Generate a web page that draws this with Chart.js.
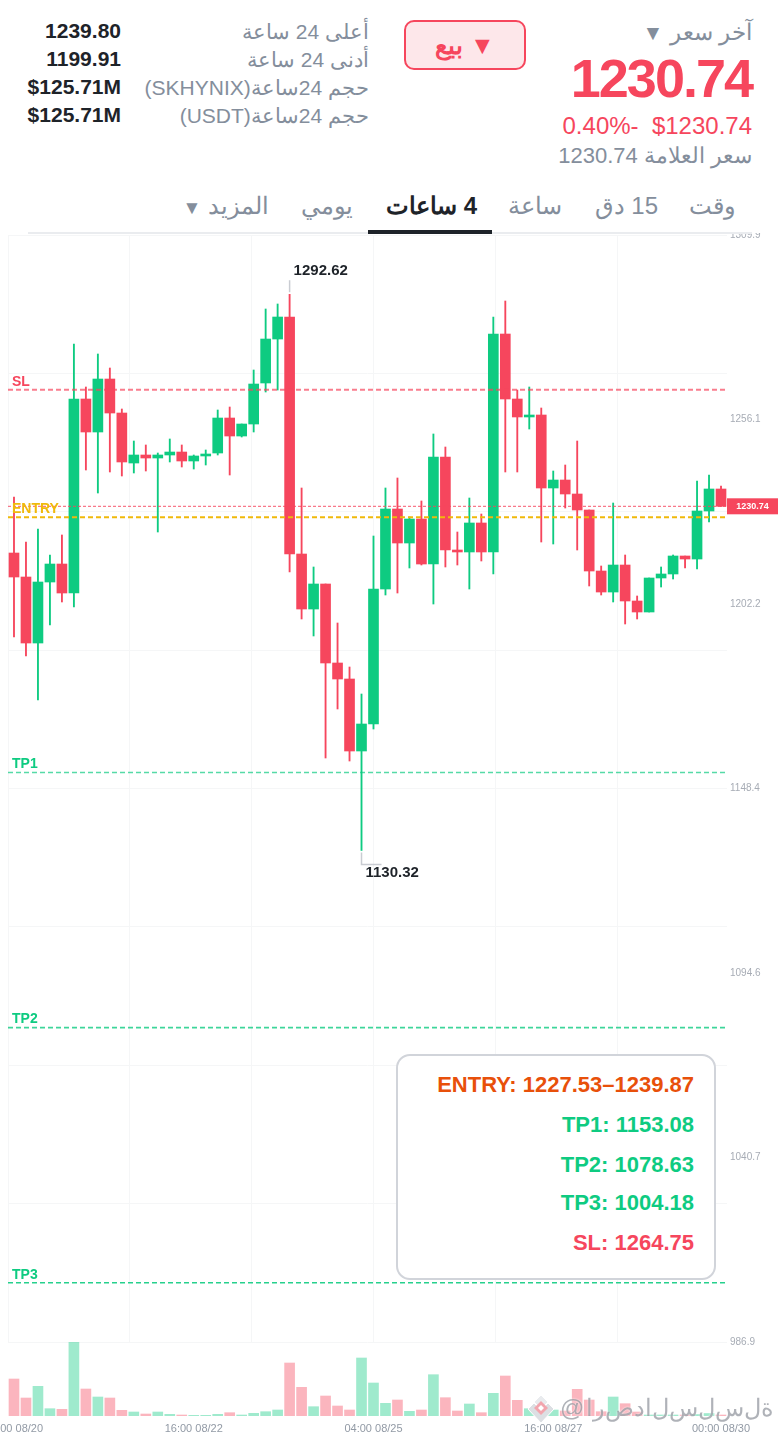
<!DOCTYPE html>
<html lang="ar">
<head>
<meta charset="utf-8">
<title>SKHYNIX</title>
<script src="https://cdn.jsdelivr.net/npm/chart.js@4"></script>
<style>
  html, body { margin: 0; padding: 0; background: #fff; }
  body { width: 780px; height: 1434px; position: relative; overflow: hidden; font-family: "Liberation Sans", "Noto Sans", sans-serif; }
  .abs { position: absolute; white-space: nowrap; }
  .r { direction: rtl; text-align: right; }
  .grey { color: #848e9c; }
  .dark { color: #1e2329; font-weight: 700; }
  canvas { position: absolute; left: 0; }
  #priceChart { top: 225px; }
  #volChart { top: 1342px; left: -30px; }
  .tab { position: absolute; top: 192px; font-size: 24px; color: #848e9c; white-space: nowrap; direction: rtl; }
  #box { position: absolute; left: 396px; top: 1054px; width: 316px; height: 222px; border: 2px solid #d1d4da; border-radius: 14px; background: #fff; z-index: 3; }
  #box div { position: absolute; right: 20px; font-size: 22px; font-weight: 700; white-space: nowrap; }
  #wm { position: absolute; left: 560px; top: 1394px; color: rgba(110,115,125,.55); font-size: 24px; letter-spacing: 2px; direction: ltr; white-space: nowrap; text-shadow: 0 0 2px #fff; z-index: 4; }
  #wm span { display: inline-block; }
  #logo { position: absolute; left: 527px; top: 1394px; z-index: 4; }
  #tabCover { position: absolute; left: 0; top: 225px; width: 780px; height: 8px; background: #fff; z-index: 1; }
  .tabLine { z-index: 2; }
</style>
</head>
<body>

<div class="abs r grey" style="right:28px;top:19px;font-size:23px">آخر سعر <span style="font-size:21px">▼</span></div>
<div class="abs" style="right:28px;top:47px;font-size:54px;font-weight:700;color:#f6465d;letter-spacing:-2px">1230.74</div>
<div class="abs" style="right:28px;top:112px;font-size:24px;color:#f6465d">0.40%-&nbsp; $1230.74</div>
<div class="abs r grey" style="right:28px;top:143px;font-size:22px">سعر العلامة 1230.74</div>

<div class="abs" style="left:404px;top:20px;width:118px;height:46px;border:2px solid #f6465d;border-radius:10px;background:#fde7ea;color:#f6465d;font-size:25px;font-weight:700;text-align:center;line-height:46px;direction:rtl">▼ بيع</div>

<div class="abs r grey" style="right:411px;top:20px;font-size:21px">أعلى 24 ساعة</div>
<div class="abs r grey" style="right:411px;top:48px;font-size:21px">أدنى 24 ساعة</div>
<div class="abs r grey" style="right:411px;top:76px;font-size:21px">حجم 24ساعة(SKHYNIX)</div>
<div class="abs r grey" style="right:411px;top:104px;font-size:21px">حجم 24ساعة(USDT)</div>
<div class="abs dark" style="right:659px;top:19px;font-size:21px">1239.80</div>
<div class="abs dark" style="right:659px;top:47px;font-size:21px">1199.91</div>
<div class="abs dark" style="right:659px;top:75px;font-size:21px">$125.71M</div>
<div class="abs dark" style="right:659px;top:103px;font-size:21px">$125.71M</div>

<div class="tab" style="right:44px">وقت</div>
<div class="tab" style="right:122px">15 دق</div>
<div class="tab" style="right:218px">ساعة</div>
<div class="tab" style="right:303px;color:#1e2329;font-weight:700">4 ساعات</div>
<div class="tab" style="right:427px">يومي</div>
<div class="tab" style="right:511px">المزيد <span style="font-size:19px">▼</span></div>

<canvas id="priceChart" width="780" height="1129"></canvas>
<canvas id="volChart" width="840" height="92"></canvas>

<div id="tabCover"></div>
<div class="abs tabLine" style="left:28px;top:232px;width:724px;height:2px;background:#eaecef"></div>
<div class="abs tabLine" style="left:368px;top:230px;width:124px;height:4px;background:#1e2329"></div>

<div id="box">
  <div style="top:16px;color:#e8500a">ENTRY: 1227.53–1239.87</div>
  <div style="top:56px;color:#0ecb81">TP1: 1153.08</div>
  <div style="top:96px;color:#0ecb81">TP2: 1078.63</div>
  <div style="top:134px;color:#0ecb81">TP3: 1004.18</div>
  <div style="top:174px;color:#f6465d">SL: 1264.75</div>
</div>

<svg id="logo" width="28" height="30" viewBox="0 0 28 30">
  <path d="M14 1 L21 8 L14 15 L7 8 Z" fill="#e9ebee" stroke="#fff" stroke-width="1"/>
  <path d="M7 9 L14 16 L21 9 L27 15 L14 29 L1 15 Z" fill="#dcdfe3" stroke="#fff" stroke-width="1"/>
  <path d="M14 7 L21 14 L14 21 L7 14 Z" fill="#f2a5ae"/>
  <path d="M14 11 L17 14 L14 17 L11 14 Z" fill="#fff"/>
</svg>
<div id="wm"></div>

<script>
const categories = ['04:00 08/20','08:00 08/20','12:00 08/20','16:00 08/20','20:00 08/20','00:00 08/21','04:00 08/21','08:00 08/21','12:00 08/21','16:00 08/21','20:00 08/21','00:00 08/22','04:00 08/22','08:00 08/22','12:00 08/22','16:00 08/22','20:00 08/22','00:00 08/23','04:00 08/23','08:00 08/23','12:00 08/23','16:00 08/23','20:00 08/23','00:00 08/24','04:00 08/24','08:00 08/24','12:00 08/24','16:00 08/24','20:00 08/24','00:00 08/25','04:00 08/25','08:00 08/25','12:00 08/25','16:00 08/25','20:00 08/25','00:00 08/26','04:00 08/26','08:00 08/26','12:00 08/26','16:00 08/26','20:00 08/26','00:00 08/27','04:00 08/27','08:00 08/27','12:00 08/27','16:00 08/27','20:00 08/27','00:00 08/28','04:00 08/28','08:00 08/28','12:00 08/28','16:00 08/28','20:00 08/28','00:00 08/29','04:00 08/29','08:00 08/29','12:00 08/29','16:00 08/29','20:00 08/29','00:00 08/30'];

const opens = [1217.11,1210.11,1190.85,1208.65,1213.90,1205.44,1262.05,1252.42,1267.88,1257.96,1243.37,1245.71,1244.83,1245.71,1246.58,1243.96,1245.42,1246.29,1256.50,1251.25,1254.75,1266.72,1279.55,1285.97,1216.82,1200.77,1208.07,1185.02,1180.35,1159.34,1167.22,1206.61,1229.95,1220.03,1227.03,1213.90,1245.12,1217.99,1217.41,1225.87,1217.41,1281.01,1262.05,1256.80,1257.38,1236.08,1238.41,1234.33,1229.66,1211.86,1205.73,1213.61,1203.11,1199.90,1209.82,1210.99,1216.24,1215.36,1229.37,1235.79];
const highs = [1233.45,1220.32,1224.12,1216.53,1222.37,1278.10,1265.55,1275.18,1271.09,1259.13,1249.79,1248.63,1246.29,1250.38,1248.63,1245.71,1247.17,1258.84,1259.71,1254.75,1270.51,1288.31,1289.77,1292.62,1236.08,1213.03,1208.07,1196.69,1183.85,1175.97,1222.07,1236.08,1239.00,1227.62,1232.29,1251.84,1248.04,1223.24,1233.16,1228.49,1285.97,1290.64,1264.67,1265.55,1259.42,1241.04,1242.79,1249.79,1229.66,1213.32,1231.70,1216.53,1204.57,1209.82,1213.03,1216.53,1216.24,1238.12,1239.87,1236.66];
const lows = [1192.60,1187.06,1174.22,1196.11,1202.82,1201.36,1241.33,1234.62,1240.75,1239.58,1240.46,1241.04,1223.24,1243.67,1242.21,1241.62,1242.79,1245.71,1239.87,1250.96,1252.42,1264.09,1264.67,1211.57,1197.86,1192.90,1157.30,1171.60,1156.42,1130.32,1165.76,1204.86,1205.44,1212.74,1213.61,1202.23,1213.03,1213.61,1206.61,1214.78,1210.99,1240.75,1240.75,1253.29,1220.32,1219.74,1230.24,1217.99,1207.49,1204.86,1202.82,1196.40,1197.86,1199.90,1207.19,1209.53,1212.74,1212.45,1226.16,1230.74];
const closes = [1210.11,1190.85,1208.65,1213.90,1205.44,1262.05,1252.42,1267.88,1257.96,1243.67,1245.71,1244.83,1245.71,1246.58,1243.96,1245.42,1246.00,1256.50,1251.25,1254.75,1266.42,1279.55,1285.97,1216.82,1200.77,1208.07,1185.02,1180.35,1159.34,1167.22,1206.61,1229.95,1220.03,1227.03,1213.90,1245.12,1217.99,1217.41,1225.87,1217.41,1281.01,1262.05,1256.80,1257.38,1236.08,1238.41,1234.33,1229.66,1211.86,1205.73,1213.61,1203.11,1199.90,1209.82,1210.99,1216.24,1215.36,1229.37,1235.79,1230.74];
const volumes = [37,18,29.7,7.3,6.7,74,27,19,18,5.7,4,2,4,1.7,1,0.7,0.7,1.7,3.3,1,2.7,4.3,6,53,28.7,9.3,20,10,6,58,33,12.7,16,4.7,6,41.3,18.3,5,12,3.3,22.7,40,15.7,7.3,5,6,5,26.7,16,4.3,19,12.3,4,1,1,1,1,1.5,2.5,1];

const priceLabels = [1309.9,1256.1,1202.2,1148.4,1094.6,1040.7,986.9];
const gridPrices = [1309.9,1269.5,1229.1,1188.8,1148.4,1108.0,1067.6,1027.3,986.9];
const gridColumns = [0,1,2,3,4,5];
const shownTimes = ['04:00 08/20','16:00 08/22','04:00 08/25','16:00 08/27','00:00 08/30'];

const levelNames = ['SL','ENTRY','TP1','TP2','TP3'];
const levelValues = [1264.75,1227.53,1153.08,1078.63,1004.18];
const levelColors = ['#f6465d','#f0b90b','#0ecb81','#0ecb81','#0ecb81'];
const lastPrice = 1230.74;
const highMark = 1292.62;
const lowMark = 1130.32;

const watermark = ['@','ا','ر','ص','د','ا','ل','س','ل','س','ل','ة'];

const UP = '#0ecb81';
const DOWN = '#f6465d';
const candleColors = opens.map((o, i) => closes[i] >= o ? UP : DOWN);
const volColors = candleColors.map(c => c === UP ? 'rgba(14,203,129,.4)' : 'rgba(246,70,93,.4)');

document.getElementById('wm').innerHTML = watermark.map(c => `<span>${c}</span>`).join('');

// etiquetas, marcas de maximo/minimo y precio actual
const overlay = {
  id: 'overlay',
  afterDatasetsDraw(chart) {
    const { ctx, scales } = chart;
    const y = scales.y, x = scales.x;
    ctx.save();
    ctx.textBaseline = 'middle';

    ctx.font = 'bold 14px "Liberation Sans"';
    levelNames.forEach((n, i) => {
      ctx.fillStyle = levelColors[i];
      ctx.fillText(n, 12, y.getPixelForValue(levelValues[i]) - 8);
    });

    ctx.font = 'bold 15px "Liberation Sans"';

    // maximo
    const hi = highs.indexOf(highMark);
    const hx = x.getPixelForValue(hi), hy = y.getPixelForValue(highMark);
    ctx.strokeStyle = '#c9ccd2';
    ctx.lineWidth = 1.5;
    ctx.beginPath(); ctx.moveTo(hx, hy - 2); ctx.lineTo(hx, hy - 14); ctx.stroke();
    ctx.fillStyle = '#1e2329';
    ctx.fillText(highMark.toFixed(2), hx + 4, hy - 23);

    // minimo
    const lo = lows.indexOf(lowMark);
    const lx = x.getPixelForValue(lo), ly = y.getPixelForValue(lowMark);
    ctx.beginPath(); ctx.moveTo(lx, ly + 2); ctx.lineTo(lx, ly + 14); ctx.lineTo(lx + 20, ly + 14); ctx.stroke();
    ctx.fillText(lowMark.toFixed(2), lx + 4, ly + 22);

    // precio actual
    const py = y.getPixelForValue(lastPrice);
    ctx.fillStyle = '#f6465d';
    ctx.fillRect(727, py - 8, 51, 16);
    ctx.fillStyle = '#fff';
    ctx.font = 'bold 9px "Liberation Sans"';
    ctx.textAlign = 'center';
    ctx.fillText(lastPrice.toFixed(2), 752.5, py + 0.5);
    ctx.restore();
  }
};

function levelDataset(value, color, width, dash) {
  return {
    type: 'line', xAxisID: 'xGrid', yAxisID: 'y',
    data: [{ x: 0, y: value }, { x: 5.9, y: value }],
    borderColor: color, borderWidth: width, borderDash: dash,
    pointRadius: 0, order: 0
  };
}

new Chart(document.getElementById('priceChart'), {
  type: 'bar',
  plugins: [overlay],
  data: {
    labels: categories,
    datasets: [
      {
        label: 'wick',
        data: lows.map((l, i) => [l, highs[i]]),
        backgroundColor: candleColors,
        barThickness: 1.2, grouped: false, order: 3
      },
      {
        label: 'body',
        data: opens.map((o, i) => [o, closes[i]]),
        backgroundColor: candleColors,
        barThickness: 10, grouped: false, order: 2
      },
      levelDataset(levelValues[0], 'rgba(246,70,93,.7)', 2, [5, 3]),
      levelDataset(levelValues[1], levelColors[1], 2, [5, 3]),
      levelDataset(levelValues[2], 'rgba(14,203,129,.7)', 1.6, [5, 3]),
      levelDataset(levelValues[3], 'rgba(14,203,129,.8)', 1.6, [5, 3]),
      levelDataset(levelValues[4], 'rgba(14,203,129,.9)', 1.6, [5, 3]),
      levelDataset(lastPrice, 'rgba(246,70,93,.9)', 1, [3, 2])
    ]
  },
  options: {
    responsive: false,
    animation: false,
    layout: { padding: { bottom: 12 } },
    plugins: { legend: { display: false }, tooltip: { enabled: false } },
    scales: {
      x: {
        type: 'category', offset: true,
        ticks: { display: false }, grid: { display: false, drawTicks: false }, border: { display: false },
        afterFit(s) { s.height = 0; }
      },
      xGrid: {
        type: 'linear', position: 'top', min: 0, max: 5.9, offset: false,
        afterBuildTicks(s) { s.ticks = gridColumns.map(v => ({ value: v })); },
        ticks: { display: false },
        grid: { color: '#f5f6f7', lineWidth: 1, drawTicks: false, offset: false },
        border: { display: false },
        afterFit(s) { s.height = 10; }
      },
      y: {
        type: 'linear', position: 'right', min: 986.9, max: 1309.9,
        afterBuildTicks(s) { s.ticks = priceLabels.map(v => ({ value: v })); },
        ticks: { color: '#a7acb5', font: { size: 10, family: 'Liberation Sans' }, padding: 3, callback: v => v.toFixed(1) },
        grid: { display: false, drawTicks: false },
        border: { display: false },
        afterFit(s) { s.width = 53; }
      },
      yGrid: {
        type: 'linear', position: 'left', min: 986.9, max: 1309.9,
        afterBuildTicks(s) { s.ticks = gridPrices.map(v => ({ value: v })); },
        ticks: { display: false },
        grid: { color: '#f5f6f7', lineWidth: 1, drawTicks: false },
        border: { display: false },
        afterFit(s) { s.width = 8; }
      }
    }
  }
});

// el lienzo de volumen sale 30px por la izquierda para que la primera etiqueta quede cortada
new Chart(document.getElementById('volChart'), {
  type: 'bar',
  data: {
    labels: categories,
    datasets: [{ data: volumes, backgroundColor: volColors, barThickness: 10 }]
  },
  options: {
    responsive: false,
    animation: false,
    plugins: { legend: { display: false }, tooltip: { enabled: false } },
    scales: {
      x: {
        type: 'category', offset: true,
        grid: { display: false, drawTicks: false }, border: { display: false },
        ticks: {
          autoSkip: false, maxRotation: 0, color: '#929aa5', padding: 6,
          font: { size: 11, family: 'Liberation Sans' },
          callback(v) { const t = categories[v]; return shownTimes.includes(t) ? t : ''; }
        },
        afterFit(s) { s.height = 18; }
      },
      y: {
        min: 0, max: 74, position: 'left',
        ticks: { display: false }, grid: { display: false, drawTicks: false }, border: { display: false },
        afterFit(s) { s.width = 38; }
      },
      yPad: {
        position: 'right', ticks: { display: false }, grid: { display: false, drawTicks: false }, border: { display: false },
        afterFit(s) { s.width = 83; }
      }
    }
  }
});
</script>
</body>
</html>
